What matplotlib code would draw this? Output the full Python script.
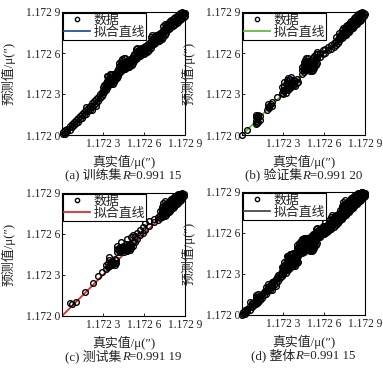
import numpy as np
import matplotlib
matplotlib.use("Agg")
import matplotlib.pyplot as plt
from matplotlib.offsetbox import TextArea, HPacker, AnchoredOffsetbox

plt.rcParams['font.family'] = ['Liberation Serif', 'Noto Sans CJK SC', 'DejaVu Sans']
plt.rcParams['axes.unicode_minus'] = False

# values are offsets above 1.1720, in units of 0.0001
base = 1.1720
unit = 1e-4

# (true value, predicted values) for each set
train_cols = [
    (0.10, [0.10, 0.25]), (0.20, [0.05, 0.35]), (0.30, [0.20]), (0.40, [0.45, 0.30]),
    (0.55, [0.40, 0.65]), (0.70, [0.55, 0.80]), (0.85, [0.95, 0.70]), (1.00, [0.85, 1.10]),
    (1.15, [1.25, 0.95]), (1.30, [1.15, 1.40]), (1.45, [1.55, 1.25]), (1.60, [1.45, 1.70]),
    (1.75, [1.85, 1.55, 2.05]), (1.90, [1.75, 2.00]), (2.05, [2.15, 1.85]),
    (2.20, [2.05, 2.35, 1.80]), (2.35, [2.50, 2.20]), (2.50, [2.35, 2.65, 2.10]),
    (2.65, [2.80, 2.50]), (2.80, [2.70, 3.00]), (2.90, [2.85, 3.15]),
    (3.0, [3.00, 3.25, 3.50]), (3.1, [3.15, 3.40, 3.65]), (3.2, [3.30, 3.55, 3.80]),
    (3.3, [3.45, 3.70, 3.95, 4.30]), (3.4, [3.60, 3.85, 4.10, 4.35]), (3.5, [3.70, 3.95, 4.20, 4.45]),
    (3.6, [3.70, 3.95, 4.20, 4.45]), (3.7, [3.75, 4.00, 4.25, 4.50]), (3.8, [3.85, 4.10, 4.35]),
    (3.9, [4.00, 4.25, 4.50]), (4.0, [4.15, 4.40, 4.65]), (4.1, [4.35, 4.60, 4.85]),
    (4.2, [4.55, 4.80, 5.05, 5.30]), (4.3, [4.70, 4.95, 5.20, 5.45]), (4.4, [4.80, 5.05, 5.30, 5.55]),
    (4.5, [4.85, 5.10, 5.35, 5.60]), (4.6, [4.85, 5.10, 5.35, 5.60]), (4.7, [4.90, 5.15, 5.40]),
    (4.8, [4.95, 5.20, 5.45]), (4.9, [5.00, 5.25, 5.50]), (5.0, [5.05, 5.30, 5.55]),
    (5.1, [5.15, 5.40, 5.65]), (5.2, [5.25, 5.50, 5.75]), (5.3, [5.40, 5.65, 5.90]),
    (5.4, [5.55, 5.80, 6.05, 6.30]), (5.5, [5.65, 5.90, 6.15, 6.40]), (5.6, [5.75, 6.00, 6.25]),
    (5.7, [5.80, 6.05, 6.30]), (5.8, [5.85, 6.10, 6.35]), (5.9, [5.90, 6.15, 6.40]),
    (6.0, [5.95, 6.20, 6.45]), (6.1, [6.00, 6.25, 6.50]), (6.2, [6.05, 6.30, 6.55]),
    (6.3, [6.15, 6.40, 6.65]), (6.4, [6.25, 6.50, 6.75]), (6.5, [6.40, 6.65, 6.90, 7.15]),
    (6.6, [6.55, 6.80, 7.05, 7.30]), (6.7, [6.65, 6.90, 7.15]), (6.8, [6.75, 7.00, 7.25]),
    (6.9, [6.80, 7.05, 7.30]), (7.0, [6.85, 7.10, 7.35]), (7.1, [6.90, 7.15, 7.40]),
    (7.2, [6.95, 7.20, 7.45]), (7.3, [7.05, 7.30, 7.55]), (7.4, [7.20, 7.45, 7.70, 7.95]),
    (7.5, [7.35, 7.60, 7.85, 8.10]), (7.6, [7.50, 7.75, 8.00]), (7.7, [7.65, 7.90, 8.15]),
    (7.8, [7.75, 8.00, 8.25]), (7.9, [7.85, 8.10, 8.35]), (8.0, [7.95, 8.20, 8.45]),
    (8.1, [8.00, 8.25, 8.50]), (8.2, [8.05, 8.30, 8.55]), (8.3, [8.10, 8.35, 8.60]),
    (8.4, [8.20, 8.45, 8.70]), (8.5, [8.30, 8.55, 8.80]), (8.6, [8.40, 8.65, 8.90]),
    (8.7, [8.50, 8.75, 8.95]), (8.8, [8.55, 8.80, 9.00]), (8.9, [8.60, 8.85, 8.95]),
    (9.0, [8.70, 8.90]),
]

valid_cols = [
    (0.00, [0.00]), (0.35, [0.35]), (1.00, [0.80, 1.30]), (1.05, [1.00, 1.45]),
    (1.10, [0.85, 1.20]), (1.20, [0.95, 1.35, 1.50]), (1.30, [1.10, 1.40]),
    (1.80, [1.85]), (1.90, [2.05, 2.25]), (2.00, [1.95, 2.15]), (2.10, [2.25]),
    (2.20, [2.10, 2.40]), (2.55, [2.80]), (2.90, [3.10, 3.50]), (3.00, [3.30, 3.00]),
    (3.10, [3.20, 3.60, 3.90]), (3.20, [3.10, 3.40, 3.75]), (3.30, [3.35, 3.70, 4.05]),
    (3.40, [3.30, 3.55, 3.95, 4.20]), (3.50, [3.45, 3.80, 4.10]), (3.60, [3.60, 3.90, 4.25]),
    (3.70, [3.55, 3.85]), (3.80, [3.70, 4.00]), (3.90, [3.60, 3.95]), (4.00, [3.80, 4.10]),
    (4.10, [3.90]),
    (4.40, [4.50, 4.75, 5.00]), (4.50, [4.60, 4.85, 5.10, 5.35]),
    (4.60, [4.75, 5.00, 5.25, 5.50]), (4.70, [4.85, 5.10, 5.35, 5.60]),
    (4.80, [4.90, 5.15, 5.40, 5.65]), (4.90, [4.80, 5.05, 5.30]),
    (5.00, [4.70, 4.95, 5.20]), (5.10, [4.65, 4.90, 5.15, 5.45]),
    (5.20, [4.75, 5.00, 5.30, 5.60]), (5.30, [4.90, 5.20, 5.50, 5.80]),
    (5.40, [5.10, 5.40, 5.70, 5.95]), (5.50, [5.30, 5.60, 5.90, 6.10]),
    (5.70, [5.70, 6.00]), (5.90, [5.90, 6.20]), (6.10, [6.00, 6.30]), (6.30, [6.20, 6.45]),
    (6.50, [6.30, 6.60]), (6.70, [6.45, 6.75]), (6.90, [6.60, 6.90, 7.15]),
    (7.00, [6.75, 7.05]), (7.10, [6.90, 7.20, 7.45]), (7.20, [7.00, 7.30]),
    (7.30, [7.10, 7.40, 7.65]), (7.40, [7.20, 7.50, 7.80]), (7.50, [7.30, 7.55, 7.85]),
    (7.60, [7.35, 7.65, 7.95]), (7.70, [7.45, 7.75, 8.05]), (7.80, [7.55, 7.85, 8.15]),
    (7.90, [7.65, 7.95, 8.25]), (8.00, [7.75, 8.05, 8.35]), (8.10, [7.85, 8.15, 8.45]),
    (8.20, [7.95, 8.25, 8.55]), (8.30, [8.05, 8.35, 8.65]), (8.40, [8.15, 8.45, 8.75]),
    (8.50, [8.25, 8.55, 8.85]), (8.60, [8.35, 8.65, 8.90]), (8.70, [8.45, 8.75, 8.95]),
    (8.80, [8.55, 8.85, 9.00]), (8.90, [8.70, 8.95]), (9.00, [8.85]),
]

test_cols = [
    (0.55, [0.95]), (0.75, [0.90]), (1.05, [1.05]), (1.65, [1.75]), (2.25, [2.45]),
    (2.65, [2.90]), (2.95, [3.25]), (3.25, [3.45, 3.70]), (3.35, [3.55, 3.90]),
    (3.45, [3.65, 4.10, 4.30]), (3.55, [3.75, 3.95]), (3.65, [3.70, 3.85, 4.05]),
    (3.75, [3.80, 3.95]), (3.85, [3.75, 3.90, 4.20]), (3.95, [3.85, 4.10]),
    (4.05, [4.70, 4.90, 5.10]), (4.15, [4.75, 4.95]), (4.25, [4.70, 4.85, 5.05]),
    (4.35, [4.75, 4.95, 5.40]), (4.45, [4.80, 4.95, 5.15]), (4.55, [4.70, 4.90, 5.05]),
    (4.65, [4.80, 5.00, 5.25]), (4.75, [4.75, 4.90, 5.10, 5.60]), (4.85, [4.80, 5.00, 5.20]),
    (4.95, [4.85, 5.05, 5.30]), (5.05, [5.00, 5.20, 5.75]), (5.20, [5.15, 5.45, 5.95]),
    (5.35, [5.40, 5.85]), (5.50, [5.60, 6.05]), (5.70, [5.90, 6.30]), (5.90, [6.10, 6.50]),
    (6.10, [6.30, 6.80]), (6.40, [6.60, 6.95]), (6.70, [6.85, 7.10]), (7.00, [7.05, 7.25]),
    (7.20, [7.15, 7.40, 7.65]), (7.30, [7.25, 7.50, 7.75, 8.00]),
    (7.40, [7.30, 7.55, 7.80, 8.05, 8.30]), (7.50, [7.35, 7.60, 7.85, 8.10, 8.40]),
    (7.60, [7.40, 7.65, 7.90, 8.15]), (7.70, [7.50, 7.75, 8.00, 8.25]),
    (7.80, [7.60, 7.85, 8.10, 8.35]), (7.90, [7.70, 7.95, 8.20, 8.45]),
    (8.00, [7.80, 8.05, 8.30, 8.55]), (8.10, [7.90, 8.15, 8.40, 8.60]),
    (8.20, [8.00, 8.25, 8.50, 8.70]), (8.30, [8.10, 8.35, 8.60, 8.80]),
    (8.40, [8.20, 8.45, 8.70, 8.85]), (8.50, [8.30, 8.55, 8.80, 8.95]),
    (8.60, [8.40, 8.65, 8.90]), (8.70, [8.50, 8.75, 8.95]), (8.80, [8.60, 8.85, 9.00]),
    (8.90, [8.75, 8.95]),
]

tick_vals = [0, 3, 6, 9]
tick_labels = ['1.172 0', '1.172 3', '1.172 6', '1.172 9']

panel_tags = ['(a) 训练集', '(b) 验证集', '(c) 测试集', '(d) 整体']
r_values = ['0.991 15', '0.991 20', '0.991 19', '0.991 15']
line_colors = ['#2b4f9e', '#66bb3a', '#e8262b', '#4a4a4a']


def expand(cols):
    xs, ys = [], []
    for t, preds in cols:
        xs += [t] * len(preds)
        ys += preds
    return base + np.array(xs) * unit, base + np.array(ys) * unit


sets = [expand(train_cols), expand(valid_cols), expand(test_cols)]
all_x = np.concatenate([s[0] for s in sets])
all_y = np.concatenate([s[1] for s in sets])
sets.append((all_x, all_y))

fig = plt.figure(figsize=(3.83, 3.70), dpi=100)
W, H = 383, 370
rects = [(62, 135), (242, 135), (62, 316), (242, 315)]
fs_tick = 8.3
fs_lab = 9.3
txt_col = '#222222'

for i, (x, y) in enumerate(sets):
    left, bottom = rects[i]
    ax = fig.add_axes([left / W, 1 - bottom / H, 123 / W, 123 / H])
    lo, hi = base, base + 9 * unit

    # fitted line (prediction = true value)
    ax.axline((lo, lo), slope=1, color=line_colors[i], lw=1.3, zorder=2, label='拟合直线')
    ax.plot(x, y, 'o', ms=4.1, mfc='none', mec='black', mew=1.0, zorder=3,
            clip_on=False, label='数据')

    ax.set_xlim(lo, hi)
    ax.set_ylim(lo, hi)
    ax.set_xticks([base + v * unit for v in tick_vals])
    ax.set_xticklabels([''] + tick_labels[1:])
    ax.set_yticks([base + v * unit for v in tick_vals])
    ax.set_yticklabels(tick_labels)
    ax.tick_params(direction='in', length=2.5, width=0.6, labelsize=fs_tick,
                   colors='black', labelcolor=txt_col)
    ax.tick_params(axis='x', pad=2.5)
    ax.tick_params(axis='y', pad=1.2)
    for sp in ax.spines.values():
        sp.set_linewidth(0.8)
        sp.set_color('black')

    ax.set_xlabel('真实值/μ(″)', fontsize=fs_lab, color=txt_col)
    ax.set_ylabel('预测值/μ(″)', fontsize=fs_lab, color=txt_col)
    ax.xaxis.set_label_coords(0.5, -0.16)
    ax.yaxis.set_label_coords(-0.38, 0.5)

    h, l = ax.get_legend_handles_labels()
    leg = ax.legend(h[::-1], l[::-1], loc='upper left', fontsize=fs_lab,
                    frameon=True, fancybox=False, framealpha=1, edgecolor='black',
                    borderpad=0.1, labelspacing=0.0, handlelength=2.0,
                    handletextpad=0.25, borderaxespad=0.08, markerscale=0.75)
    leg.get_frame().set_linewidth(0.8)
    for t in leg.get_texts():
        t.set_color(txt_col)

    # caption with italic R
    tp = dict(fontsize=fs_lab, color=txt_col)
    parts = [TextArea(panel_tags[i], textprops=tp),
             TextArea('R', textprops=dict(tp, style='italic')),
             TextArea('=' + r_values[i], textprops=tp)]
    box = HPacker(children=parts, align='baseline', pad=0, sep=0)
    anc = AnchoredOffsetbox(loc='center', child=box, pad=0, borderpad=0, frameon=False,
                            bbox_to_anchor=(0.5, -0.33), bbox_transform=ax.transAxes)
    ax.add_artist(anc)

fig.savefig('out.png', dpi=100)
